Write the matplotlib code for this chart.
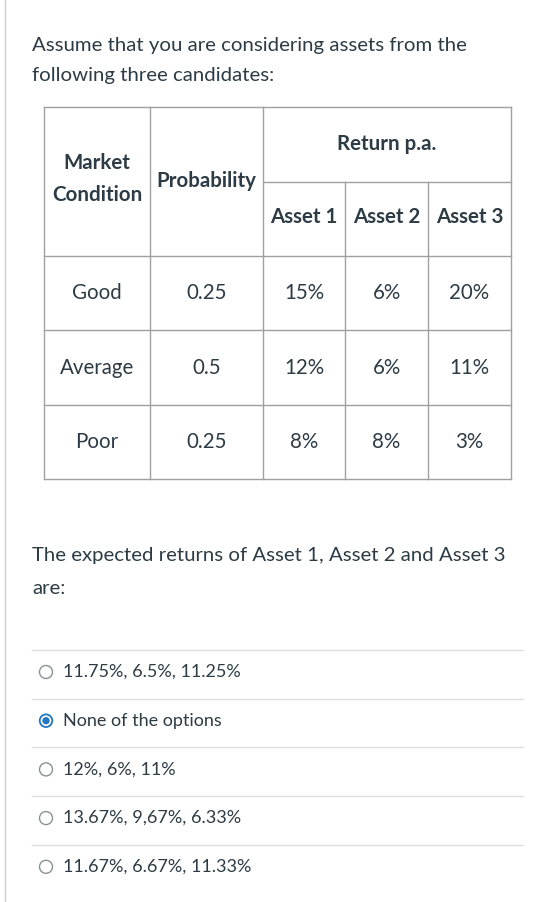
import matplotlib
matplotlib.use("Agg")
import matplotlib.pyplot as plt
from matplotlib.patches import Circle

conditions = ["Good", "Average", "Poor"]
probabilities = ["0.25", "0.5", "0.25"]
asset1 = ["15%", "12%", "8%"]
asset2 = ["6%", "6%", "8%"]
asset3 = ["20%", "11%", "3%"]
assets = ["Asset 1", "Asset 2", "Asset 3"]
options = ["11.75%, 6.5%, 11.25%", "None of the options", "12%, 6%, 11%",
           "13.67%, 9,67%, 6.33%", "11.67%, 6.67%, 11.33%"]
selected = 1

fig = plt.figure(figsize=(5.48, 9.02), dpi=100)
ax = fig.add_axes([0, 0, 1, 1])
ax.set_xlim(0, 548); ax.set_ylim(902, 0); ax.axis("off")
F = "Lato"
tc = "#2d3b45"
gc = "#a0a0a0"

ax.plot([5, 5], [0, 902], color="#c7cdd1", lw=1)
ax.text(32, 45, "Assume that you are considering assets from the", fontsize=14.7, family=F, color=tc, va="center")
ax.text(32, 75, "following three candidates:", fontsize=14.7, family=F, color=tc, va="center")

cols = [44, 150, 263, 345, 428, 511]
rows = [107, 256, 330, 405, 479]
for x in cols:
    y0 = 182 if x in (345, 428) else 107
    ax.plot([x, x], [y0, 479], color=gc, lw=1)
for y in rows:
    ax.plot([44, 511], [y, y], color=gc, lw=1)
ax.plot([263, 511], [182, 182], color=gc, lw=1)

kw = dict(family=F, color=tc, ha="center", va="center", fontsize=14.8)
ax.text(97, 163, "Market", weight="bold", **kw)
ax.text(97, 195, "Condition", weight="bold", **kw)
ax.text(206, 181, "Probability", weight="bold", **kw)
ax.text(387, 144, "Return p.a.", weight="bold", **kw)
for i, a in enumerate(assets):
    ax.text((cols[2+i]+cols[3+i])/2, 217, a, weight="bold", **kw)
for r in range(3):
    yc = (rows[r+1]+rows[r+2])/2
    vals = [conditions[r], probabilities[r], asset1[r], asset2[r], asset3[r]]
    for c, v in enumerate(vals):
        ax.text((cols[c]+cols[c+1])/2, yc, v, **kw)

ax.text(32, 555, "The expected returns of Asset 1, Asset 2 and Asset 3", fontsize=14.7, family=F, color=tc, va="center")
ax.text(32, 588, "are:", fontsize=14.7, family=F, color=tc, va="center")

for i, o in enumerate(options):
    ys = 650 + i*48.7
    ax.plot([32, 523], [ys, ys], color="#dcdfe2", lw=1)
    yc = ys + 22
    if i == selected:
        ax.add_patch(Circle((46, yc), 6.5, facecolor="#2478c2", edgecolor="#2478c2", lw=1))
        ax.add_patch(Circle((46, yc), 4.5, facecolor="none", edgecolor="white", lw=1.2))
    else:
        ax.add_patch(Circle((46, yc), 6.5, facecolor="white", edgecolor="#8a9196", lw=1))
    ax.text(63, yc, o, fontsize=13, family=F, color=tc, va="center")

fig.savefig("out.png", dpi=100)
